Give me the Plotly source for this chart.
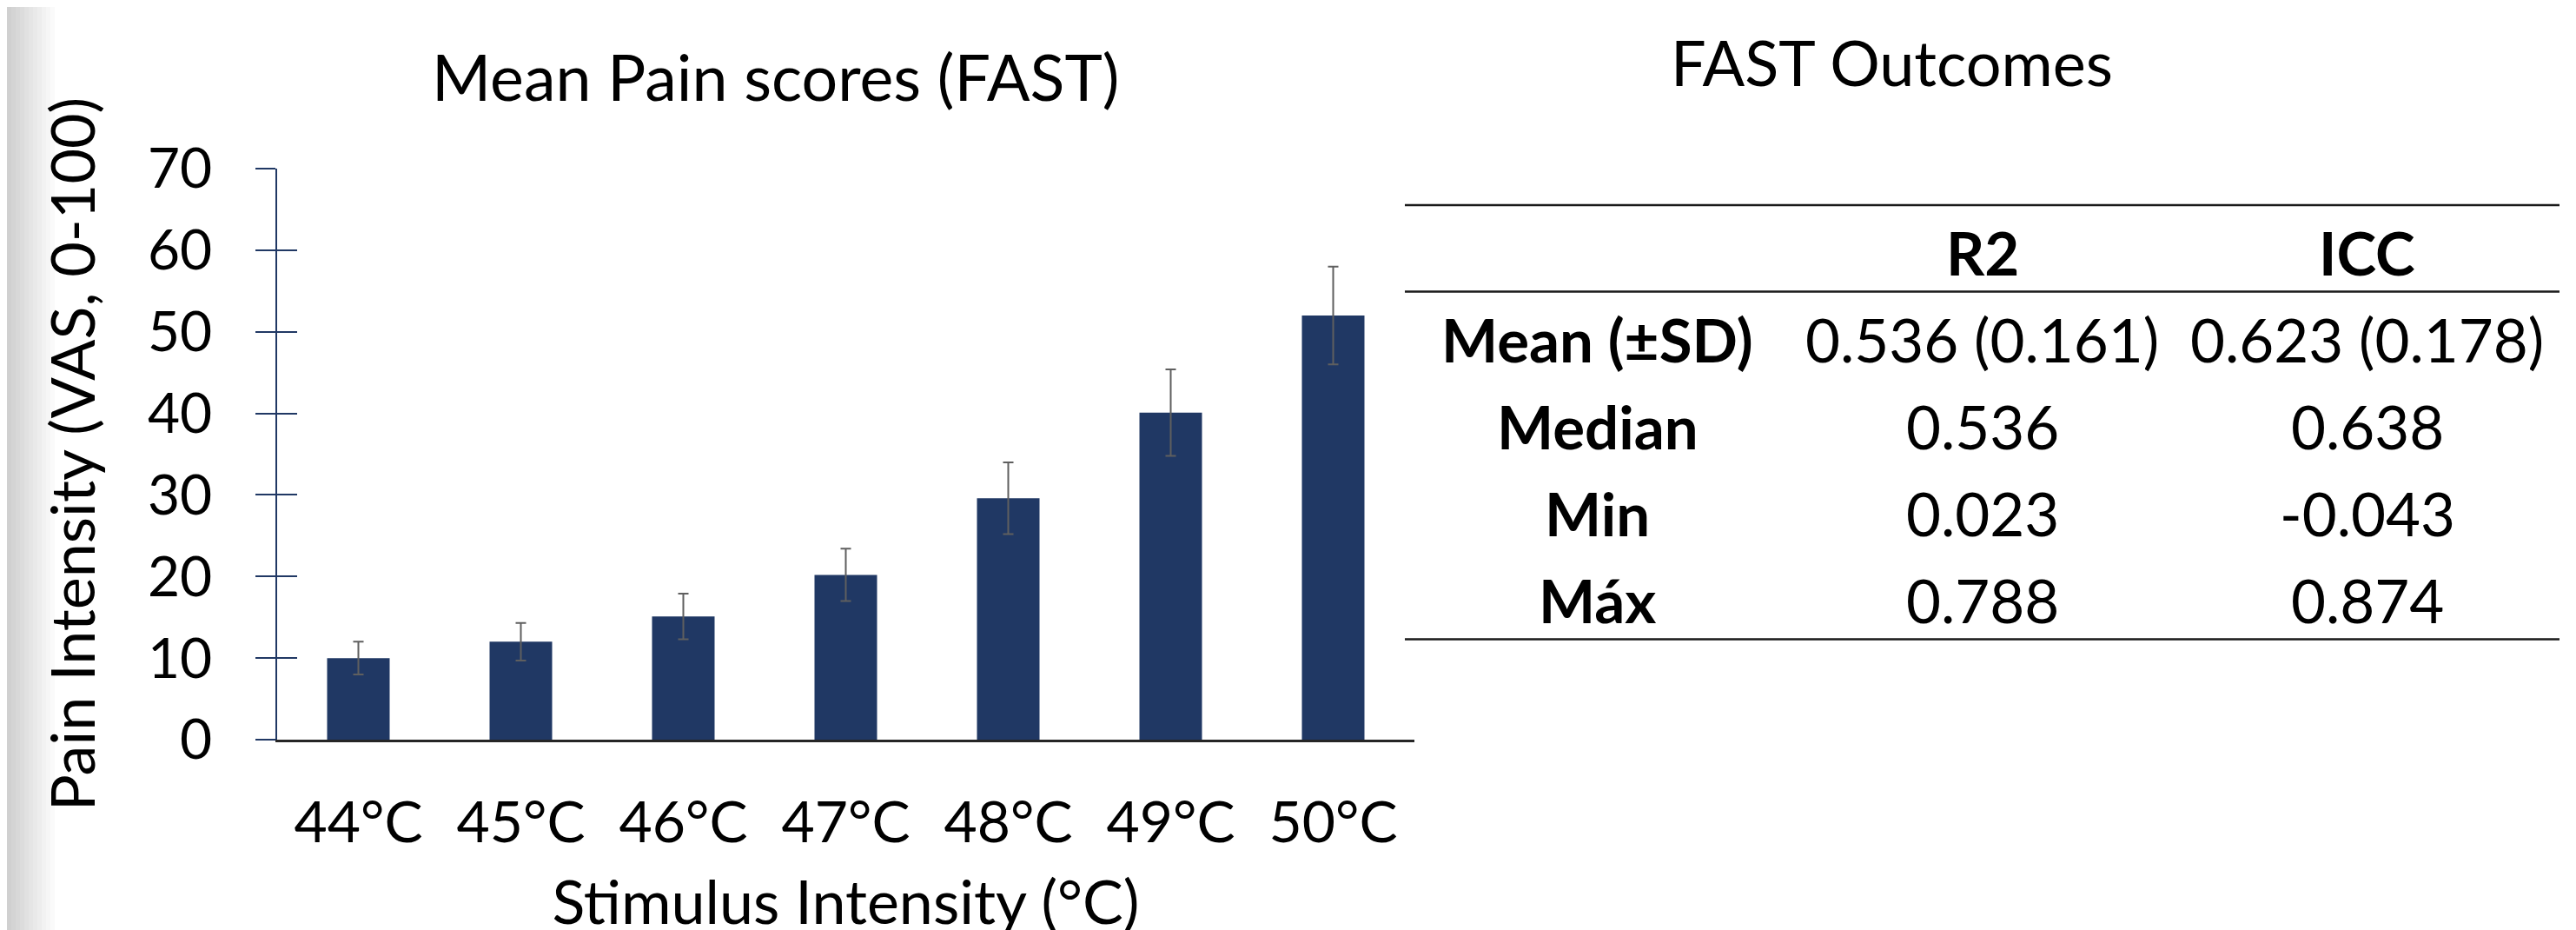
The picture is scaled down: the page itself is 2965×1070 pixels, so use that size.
import plotly.graph_objects as go

# ---------------- data ----------------
categories = ["44°C", "45°C", "46°C", "47°C", "48°C", "49°C", "50°C"]
mean_pain = [10.0, 12.0, 15.1, 20.2, 29.6, 40.1, 52.0]
sd_pain = [2.0, 2.3, 2.8, 3.2, 4.4, 5.3, 6.0]
y_ticks = [0, 10, 20, 30, 40, 50, 60, 70]

table_headers = ["", "R2", "ICC"]
row_labels = ["Mean (±SD)", "Median", "Min", "Máx"]
r2_values = ["0.536 (0.161)", "0.536", "0.023", "0.788"]
icc_values = ["0.623 (0.178)", "0.638", "-0.043", "0.874"]

chart_title = "Mean Pain scores (FAST)"
table_title = "FAST Outcomes"
x_title = "Stimulus Intensity (°C)"
y_title = "Pain Intensity (VAS, 0-100)"

# ---------------- layout constants ----------------
W, H = 2965, 1070
FONT = "Lato"
NAVY = "#203864"
ERR = "#5f5f5f"


def px_x(p):
    return p / W


def px_y(p):
    return 1 - p / H


fig = go.Figure()

fig.add_trace(go.Bar(
    x=categories, y=mean_pain,
    marker=dict(color=NAVY, line=dict(width=0)),
    error_y=dict(type="data", array=sd_pain, color=ERR, thickness=2, width=6),
    showlegend=False, hoverinfo="skip",
))
# invisible helper trace so the overlay axis (inside tick marks) is drawn
fig.add_trace(go.Scatter(
    x=categories, y=mean_pain, yaxis="y2", mode="markers",
    marker=dict(opacity=0), showlegend=False, hoverinfo="skip",
))

shapes = []
# grey gradient strip on the left edge of the slide
steps = 11
for i in range(steps):
    g = int(208 + (255 - 208) * i / steps)
    shapes.append(dict(type="rect", xref="paper", yref="paper",
                       x0=px_x(i * 5), x1=px_x(i * 5 + 5), y0=0, y1=1,
                       fillcolor=f"rgb({g},{g},{g})", line=dict(width=0), layer="below"))
# blue bar on the right edge
shapes.append(dict(type="rect", xref="paper", yref="paper",
                   x0=px_x(2960), x1=1, y0=0, y1=1,
                   fillcolor="#00B0F0", line=dict(width=0)))

# ---------------- table (text annotations + booktabs rules) ----------------
TBL_X0, TBL_X1 = 1609, 2938
TBL_TOP, HDR_BOT, ROW_H = 228, 327.5, 100
n_rows = len(row_labels)
TBL_BOT = HDR_BOT + n_rows * ROW_H
col_w = (TBL_X1 - TBL_X0) / 3
col_centers = [TBL_X0 + col_w * (i + 0.5) for i in range(3)]
TXT_DY = 5  # cap-centre offset below geometric row centre
TFONT = 69

for yy in (TBL_TOP, HDR_BOT, TBL_BOT):
    shapes.append(dict(type="line", xref="paper", yref="paper",
                       x0=px_x(TBL_X0), x1=px_x(TBL_X1), y0=px_y(yy), y1=px_y(yy),
                       line=dict(color="#1a1a1a", width=2.5)))

annotations = []


def cell(text, col, yc, bold=False):
    annotations.append(dict(
        text=f"<b>{text}</b>" if bold else text,
        xref="paper", yref="paper", x=px_x(col_centers[col]), y=px_y(yc),
        xanchor="center", yanchor="middle", showarrow=False,
        font=dict(family=FONT, size=TFONT, color="black"),
    ))


hdr_y = (TBL_TOP + HDR_BOT) / 2 + TXT_DY
for c, h in enumerate(table_headers):
    if h:
        cell(h, c, hdr_y, bold=True)
columns = [row_labels, r2_values, icc_values]
for r in range(n_rows):
    yc = HDR_BOT + ROW_H * (r + 0.5) + TXT_DY
    for c, col in enumerate(columns):
        cell(col[r], c, yc, bold=(c == 0))

annotations += [
    dict(text=chart_title, xref="paper", yref="paper", x=px_x(884), y=px_y(79),
         xanchor="center", yanchor="middle", showarrow=False,
         font=dict(family=FONT, size=73.5, color="black")),
    dict(text=table_title, xref="paper", yref="paper", x=px_x(2169), y=px_y(63),
         xanchor="center", yanchor="middle", showarrow=False,
         font=dict(family=FONT, size=72, color="black")),
]

fig.update_layout(
    width=W, height=H, autosize=False,
    margin=dict(l=0, r=0, t=0, b=0, pad=0),
    paper_bgcolor="white", plot_bgcolor="rgba(0,0,0,0)",
    template="none",
    bargap=0.615,
    font=dict(family=FONT, color="black"),
    xaxis=dict(
        domain=[px_x(311), px_x(1620)], range=[-0.5, 6.5],
        showline=True, linecolor="#262626", linewidth=2.5,
        ticks="", showgrid=False, zeroline=False, automargin=False,
        tickfont=dict(family=FONT, size=66, color="black"),
        ticklabelstandoff=36,
        title=dict(text=x_title, font=dict(family=FONT, size=70, color="black"), standoff=49),
    ),
    yaxis=dict(
        domain=[px_y(843), px_y(186)], range=[0, 70],
        tickmode="array", tickvals=y_ticks,
        showline=True, linecolor=NAVY, linewidth=2,
        ticks="outside", ticklen=23, tickwidth=2, tickcolor=NAVY,
        showgrid=False, zeroline=False, automargin=False,
        tickfont=dict(family=FONT, size=64, color="black"),
        ticklabelstandoff=37,
        title=dict(text=y_title, font=dict(family=FONT, size=70, color="black"), standoff=37),
    ),
    yaxis2=dict(
        overlaying="y", anchor="x", side="left", range=[0, 70],
        tickmode="array", tickvals=y_ticks,
        ticks="inside", ticklen=23, tickwidth=2, tickcolor=NAVY,
        showticklabels=False, showline=False, showgrid=False, zeroline=False,
        automargin=False,
    ),
    shapes=shapes,
    annotations=annotations,
)

fig.write_html("out.html")
